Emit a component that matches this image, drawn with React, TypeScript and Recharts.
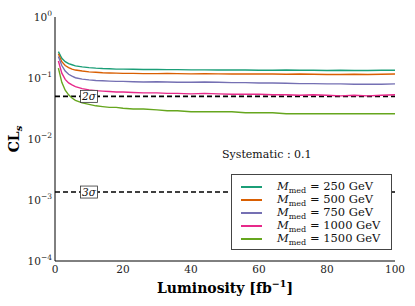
import { LineChart, Line, XAxis, YAxis, ReferenceLine, ReferenceDot, Legend } from 'recharts';

const FONT = "'DejaVu Serif', 'Liberation Serif', 'Times New Roman', serif";

// luminosity in fb^-1
const luminosity = [1, 2, 3, 4, 5, 6, 8, 10, 12, 14, 16, 18, 20, 23, 26, 30, 33, 36, 40, 44, 48, 52, 56, 60, 64, 68, 72, 76, 80, 84, 88, 92, 96, 100];

const cls250 = [0.27, 0.21, 0.185, 0.172, 0.165, 0.158, 0.152, 0.148, 0.145, 0.143, 0.142, 0.14, 0.14, 0.139, 0.138, 0.138, 0.137, 0.137, 0.136, 0.136, 0.135, 0.136, 0.135, 0.134, 0.134, 0.135, 0.134, 0.134, 0.133, 0.134, 0.133, 0.133, 0.134, 0.134];
const cls500 = [0.25, 0.185, 0.16, 0.148, 0.14, 0.135, 0.13, 0.126, 0.124, 0.122, 0.121, 0.12, 0.119, 0.119, 0.118, 0.118, 0.119, 0.118, 0.117, 0.118, 0.117, 0.116, 0.117, 0.116, 0.116, 0.115, 0.116, 0.115, 0.114, 0.114, 0.115, 0.114, 0.115, 0.116];
const cls750 = [0.225, 0.16, 0.13, 0.115, 0.107, 0.101, 0.096, 0.093, 0.091, 0.09, 0.089, 0.088, 0.088, 0.087, 0.086, 0.087, 0.086, 0.085, 0.085, 0.086, 0.085, 0.084, 0.084, 0.083, 0.083, 0.082, 0.081, 0.081, 0.08, 0.08, 0.079, 0.079, 0.079, 0.08];
const cls1000 = [0.19, 0.12, 0.095, 0.083, 0.077, 0.072, 0.067, 0.064, 0.062, 0.061, 0.06, 0.059, 0.059, 0.058, 0.057, 0.057, 0.056, 0.056, 0.055, 0.056, 0.055, 0.054, 0.054, 0.054, 0.053, 0.053, 0.052, 0.053, 0.052, 0.051, 0.052, 0.051, 0.052, 0.053];
const cls1500 = [0.145, 0.085, 0.063, 0.053, 0.047, 0.043, 0.039, 0.037, 0.035, 0.034, 0.033, 0.033, 0.032, 0.031, 0.031, 0.03, 0.029, 0.029, 0.028, 0.028, 0.028, 0.028, 0.027, 0.027, 0.027, 0.026, 0.026, 0.026, 0.026, 0.026, 0.026, 0.026, 0.026, 0.026];

const masses = ['250', '500', '750', '1000', '1500'];
const colors = ['#1b9e77', '#d95f02', '#7570b3', '#e7298a', '#66a61e'];
const seriesValues = [cls250, cls500, cls750, cls1000, cls1500];

const xTicks = [0, 20, 40, 60, 80, 100];
const yMajorTicks = [1e-4, 1e-3, 1e-2, 1e-1, 1];
const yMajorExp = ['−4', '−3', '−2', '−1', '0'];

const sigmaLines = [
  { label: '2σ', value: 0.05 },
  { label: '3σ', value: 0.00135 },
];

const yMinorTicks: number[] = [];
for (let d = -4; d < 0; d++) {
  for (let k = 2; k <= 9; k++) yMinorTicks.push(k * Math.pow(10, d));
}

const data = luminosity.map((lum, i) => {
  const row: Record<string, number> = { lum };
  masses.forEach((m, j) => {
    row['m' + m] = seriesValues[j][i];
  });
  return row;
});

const YTick = (props: any) => {
  const { x, y, payload } = props;
  const i = yMajorTicks.indexOf(payload.value);
  return (
    <text x={x} y={y} dy="0.35em" textAnchor="end" fontFamily={FONT} fontSize={10.5} fill="#222">
      10
      <tspan dy={-5} fontSize={7.5}>
        {yMajorExp[i]}
      </tspan>
    </text>
  );
};

const SigmaBox = (props: any) => {
  const { cx, cy, text } = props;
  return (
    <g>
      <rect x={cx - 8.5} y={cy - 6} width={17} height={12} fill="#fff" stroke="#333" strokeWidth={0.8} />
      <text x={cx} y={cy} dy="0.35em" textAnchor="middle" fontFamily={FONT} fontStyle="italic" fontSize={10.5} fill="#111">
        {text}
      </text>
    </g>
  );
};

const LegendBox = (props: any) => {
  const payload = [...(props.payload || [])].sort((a: any, b: any) => masses.indexOf(a.value) - masses.indexOf(b.value));
  return (
    <div
      style={{
        border: '1px solid #444',
        background: '#fff',
        padding: '5px 8px 5px 9px',
        fontFamily: FONT,
        fontSize: 11.5,
        color: '#111',
        boxSizing: 'border-box',
        width: 161,
        height: 76,
      }}
    >
      {payload.map((p: any) => (
        <div key={p.value} style={{ display: 'flex', alignItems: 'center', height: 13, lineHeight: '13px', whiteSpace: 'nowrap' }}>
          <span style={{ display: 'inline-block', width: 21, borderTop: `2px solid ${p.color}`, marginRight: 15 }} />
          <span style={{ fontFamily: FONT }}>
            <i>M</i>
            <span style={{ fontSize: 8, position: 'relative', top: 3 }}>med</span> = {p.value} GeV
          </span>
        </div>
      ))}
    </div>
  );
};

export default function App() {
  return (
    <div style={{ position: 'absolute', left: 0, top: 0, width: 415, height: 306, background: '#fff' }}>
      <LineChart width={415} height={306} data={data} margin={{ top: 17, right: 20, bottom: 0, left: 0 }}>
        <XAxis
          xAxisId="b"
          dataKey="lum"
          type="number"
          domain={[0, 100]}
          ticks={xTicks}
          interval={0}
          height={45}
          tickLine={false}
          tickSize={0}
          tickMargin={5}
          axisLine={{ stroke: '#000', strokeWidth: 1 }}
          tick={{ fontFamily: FONT, fontSize: 10.5, fill: '#222' }}
          label={{
            content: (p: any) => {
              const vb = p.viewBox;
              return (
                <text x={vb.x + vb.width / 2} y={vb.y + 32} textAnchor="middle" fontFamily={FONT} fontWeight="bold" fontSize={14} fill="#000">
                  Luminosity [fb
                  <tspan dy={-6} fontSize={9.5}>
                    −1
                  </tspan>
                  <tspan dy={6}>]</tspan>
                </text>
              );
            },
          }}
        />
        <XAxis xAxisId="bt" dataKey="lum" type="number" domain={[0, 100]} ticks={xTicks} interval={0} mirror height={0} tick={false} tickSize={4} tickLine={{ stroke: '#000' }} axisLine={false} />
        <XAxis xAxisId="t" dataKey="lum" type="number" domain={[0, 100]} ticks={xTicks} interval={0} orientation="top" mirror height={0} tick={false} tickSize={4} tickLine={{ stroke: '#000' }} axisLine={{ stroke: '#000' }} />

        <YAxis
          yAxisId="l"
          scale="log"
          type="number"
          domain={[1e-4, 1]}
          allowDataOverflow
          ticks={yMajorTicks}
          interval={0}
          width={55}
          tickLine={false}
          tickSize={0}
          tickMargin={3}
          axisLine={{ stroke: '#000', strokeWidth: 1 }}
          tick={<YTick />}
          label={{
            content: (p: any) => {
              const vb = p.viewBox;
              const cx = vb.x + 19;
              const cy = vb.y + vb.height / 2;
              return (
                <text transform={`translate(${cx},${cy}) rotate(-90)`} textAnchor="middle" fontFamily={FONT} fontWeight="bold" fontSize={14} fill="#000">
                  CL
                  <tspan dy={3} fontSize={10} fontStyle="italic">
                    s
                  </tspan>
                </text>
              );
            },
          }}
        />
        <YAxis yAxisId="lmaj" scale="log" type="number" domain={[1e-4, 1]} allowDataOverflow ticks={yMajorTicks} interval={0} mirror width={0} tick={false} tickSize={5} tickLine={{ stroke: '#000' }} axisLine={false} />
        <YAxis yAxisId="lmin" scale="log" type="number" domain={[1e-4, 1]} allowDataOverflow ticks={yMinorTicks} interval={0} mirror width={0} tick={false} tickSize={2.5} tickLine={{ stroke: '#000', strokeWidth: 0.7 }} axisLine={false} />
        <YAxis yAxisId="rmaj" orientation="right" scale="log" type="number" domain={[1e-4, 1]} allowDataOverflow ticks={yMajorTicks} interval={0} mirror width={0} tick={false} tickSize={5} tickLine={{ stroke: '#000' }} axisLine={{ stroke: '#000' }} />
        <YAxis yAxisId="rmin" orientation="right" scale="log" type="number" domain={[1e-4, 1]} allowDataOverflow ticks={yMinorTicks} interval={0} mirror width={0} tick={false} tickSize={2.5} tickLine={{ stroke: '#000', strokeWidth: 0.7 }} axisLine={false} />

        {sigmaLines.map((s) => (
          <ReferenceLine key={s.label} xAxisId="b" yAxisId="l" y={s.value} stroke="#000" strokeWidth={1.6} strokeDasharray="5 3" />
        ))}

        {masses.map((m, j) => (
          <Line
            key={m}
            xAxisId="b"
            yAxisId="l"
            type="linear"
            dataKey={'m' + m}
            name={m}
            stroke={colors[j]}
            strokeWidth={1.4}
            dot={false}
            isAnimationActive={false}
          />
        ))}

        {sigmaLines.map((s) => (
          <ReferenceDot key={s.label + 'box'} xAxisId="b" yAxisId="l" x={10} y={s.value} shape={(p: any) => <SigmaBox {...p} text={s.label} />} />
        ))}

        <Legend
          layout="vertical"
          align="center"
          verticalAlign="middle"
          content={<LegendBox />}
          wrapperStyle={{ position: 'absolute', left: 231, top: 174, width: 161, height: 76 }}
        />
      </LineChart>
      <div
        style={{
          position: 'absolute',
          left: 222,
          top: 148,
          fontFamily: FONT,
          fontSize: 11,
          color: '#111',
          whiteSpace: 'nowrap',
        }}
      >
        Systematic : 0.1
      </div>
    </div>
  );
}
